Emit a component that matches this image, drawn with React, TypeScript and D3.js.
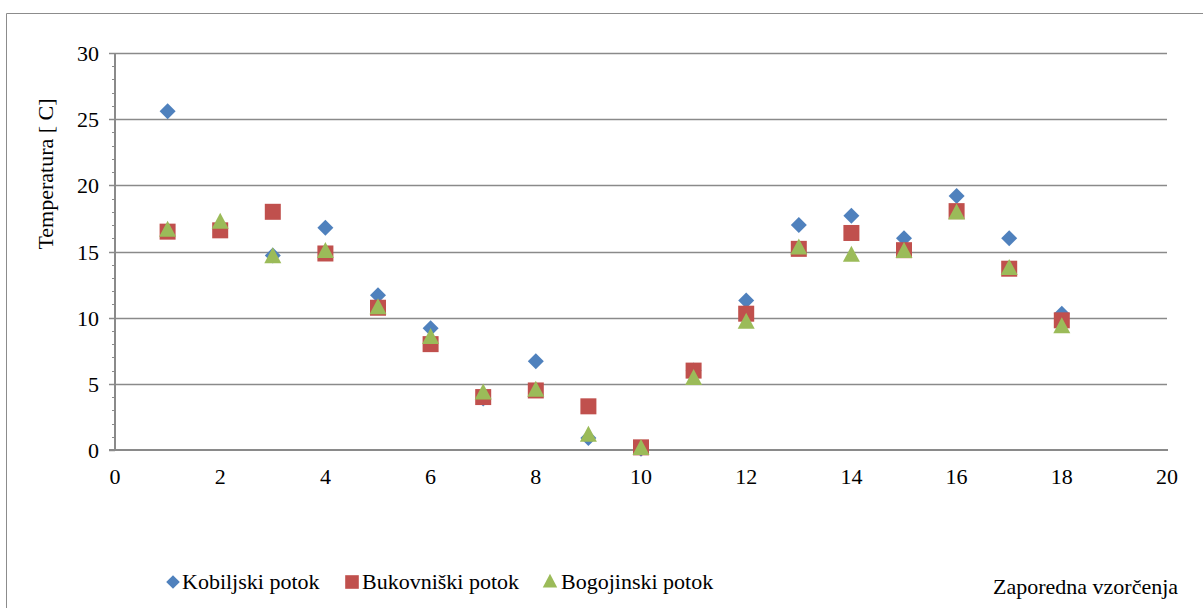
import React from "react";
import * as d3 from "d3";

const samples = [1, 2, 3, 4, 5, 6, 7, 8, 9, 10, 11, 12, 13, 14, 15, 16, 17, 18];
const kobiljski = [25.6, 16.7, 14.7, 16.8, 11.7, 9.2, 3.9, 6.7, 0.9, 0.1, 6.0, 11.3, 17.0, 17.7, 16.0, 19.2, 16.0, 10.3];
const bukovniski = [16.5, 16.6, 18.0, 14.85, 10.75, 8.0, 4.0, 4.5, 3.3, 0.2, 6.0, 10.3, 15.2, 16.4, 15.1, 18.05, 13.7, 9.8];
const bogojinski = [16.6, 17.2, 14.6, 15.0, 10.75, 8.5, 4.3, 4.5, 1.1, 0.1, 5.4, 9.65, 15.25, 14.7, 15.0, 17.9, 13.7, 9.3];
const xTicks = [0, 2, 4, 6, 8, 10, 12, 14, 16, 18, 20];
const yTicks = [0, 5, 10, 15, 20, 25, 30];
const seriesNames = ["Kobiljski potok", "Bukovniški potok", "Bogojinski potok"];
const colors = ["#4F81BD", "#C0504D", "#9BBB59"];
const yTitle = "Temperatura [ C]";
const xTitle = "Zaporedna vzorčenja";

const W = 1203;
const H = 608;
const tStyle = { fontFamily: "Liberation Serif" };
const FS = 22;

function Marker({ kind, cx, cy, color, scale = 1 }: { kind: number; cx: number; cy: number; color: string; scale?: number }) {
  if (kind === 0) {
    const r = 8 * scale;
    return <path d={`M${cx},${cy - r}L${cx + r},${cy}L${cx},${cy + r}L${cx - r},${cy}Z`} fill={color} />;
  }
  if (kind === 1) {
    const s = 16 * scale;
    return <rect x={cx - s / 2} y={cy - s / 2} width={s} height={s} fill={color} />;
  }
  const w = 17 * scale;
  const h = 16 * scale;
  return <path d={`M${cx},${cy - h * 0.6}L${cx + w / 2},${cy + h * 0.4}L${cx - w / 2},${cy + h * 0.4}Z`} fill={color} />;
}

export default function App() {
  const x = d3.scaleLinear().domain([0, 20]).range([115, 1167]);
  const y = d3.scaleLinear().domain([0, 30]).range([450, 53]);
  const minor = d3.range(0, 31, 1);
  const series = [kobiljski, bukovniski, bogojinski];

  const legendItems = [
    { mx: 173, tx: 182 },
    { mx: 352, tx: 362 },
    { mx: 550, tx: 561 },
  ];

  return (
    <svg width={W} height={H} style={{ position: "absolute", left: 0, top: 0, background: "#fff" }}>
      <rect x={0} y={0} width={W} height={H} fill="#fff" />
      <path d={`M6.5,${H}V13.5H${W}`} fill="none" stroke="#8c8c8c" strokeWidth={1} />
      {yTicks.filter((t) => t > 0).map((t) => (
        <line key={"g" + t} x1={x(0)} x2={x(20)} y1={Math.round(y(t)) + 0.5} y2={Math.round(y(t)) + 0.5} stroke="#8a8a8a" strokeWidth={1.5} />
      ))}
      {minor.map((t) => (
        <line key={"m" + t} x1={x(0) - 3} x2={x(0)} y1={Math.round(y(t)) + 0.5} y2={Math.round(y(t)) + 0.5} stroke="#8a8a8a" strokeWidth={1} />
      ))}
      {yTicks.map((t) => (
        <line key={"M" + t} x1={x(0) - 6} x2={x(0)} y1={Math.round(y(t)) + 0.5} y2={Math.round(y(t)) + 0.5} stroke="#8a8a8a" strokeWidth={1.5} />
      ))}
      <line x1={x(0)} x2={x(0)} y1={y(30)} y2={y(0)} stroke="#8a8a8a" strokeWidth={2} />
      <line x1={x(0) - 6} x2={x(20) + 1} y1={y(0)} y2={y(0)} stroke="#8a8a8a" strokeWidth={2} />
      {yTicks.map((t) => (
        <text key={"yl" + t} x={99} y={y(t) + 8} textAnchor="end" fontSize={FS} fill="#000" style={tStyle}>{t}</text>
      ))}
      {xTicks.map((t) => (
        <text key={"xl" + t} x={x(t)} y={484} textAnchor="middle" fontSize={FS} fill="#000" style={tStyle}>{t}</text>
      ))}
      <text transform={`translate(53,174) rotate(-90)`} textAnchor="middle" fontSize={FS} fill="#000" style={tStyle}>{yTitle}</text>
      {series.map((vals, si) =>
        vals.map((v, i) => (
          <Marker key={si + "-" + i} kind={si} cx={x(samples[i])} cy={y(v)} color={colors[si]} />
        ))
      )}
      {seriesNames.map((name, si) => (
        <g key={"lg" + si}>
          <Marker kind={si} cx={legendItems[si].mx} cy={582} color={colors[si]} scale={0.85} />
          <text x={legendItems[si].tx} y={589} fontSize={FS} fill="#000" style={tStyle}>{name}</text>
        </g>
      ))}
      <text x={993} y={594} fontSize={FS} fill="#000" style={tStyle}>{xTitle}</text>
    </svg>
  );
}
